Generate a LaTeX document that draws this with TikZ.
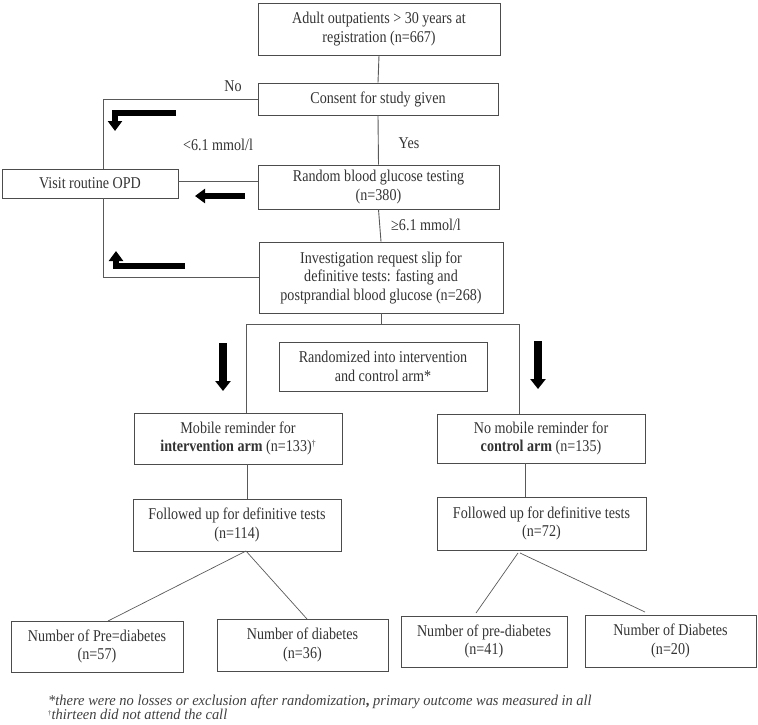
\documentclass[tikz,border=0pt]{standalone}
\usepackage{fontspec}
\setmainfont{Liberation Serif}[FakeStretch=0.855]
\newfontfamily\notefont{Liberation Serif}[FakeStretch=0.965]
\usetikzlibrary{arrows.meta}
\begin{document}
\begin{tikzpicture}[x=1pt,y=-1pt,
  box/.style={draw=black!70, line width=0.9pt, text=black!80, align=center, inner sep=0pt,
    font=\fontsize{16.5}{18.5}\selectfont},
  lbl/.style={text=black!80, inner sep=0pt, font=\fontsize{16.5}{18.5}\selectfont},
  conn/.style={draw=black!65, line width=0.9pt},
  fat/.style={line width=6pt, line join=miter, -{Triangle[width=14pt,length=10pt]}},
  fatv/.style={line width=7.5pt, -{Triangle[width=15pt,length=10pt]}},
  note/.style={anchor=base west, text=black!75, inner sep=0pt, font=\notefont\fontsize{15}{12}\selectfont\itshape}]
\useasboundingbox (0,0) rectangle (758,724);

% boxes
\node[box, minimum width=242, minimum height=52] (b1) at (379,29) {Adult outpatients > 30 years at\\registration (n=667)};
\node[box, minimum width=240, minimum height=32] (b2) at (378,99) {Consent for study given};
\node[box, minimum width=241, minimum height=44] (b3) at (378.5,187) {Random blood glucose testing\\(n=380)};
\node[box, minimum width=244, minimum height=71] (b4) at (381,277.5) {Investigation request slip for\\definitive tests: fasting and\\postprandial blood glucose (n=268)};
\node[box, minimum width=176, minimum height=29] (opd) at (90,183.5) {Visit routine OPD};
\node[box, minimum width=208, minimum height=49] (rnd) at (383,366.5) {Randomized into intervention\\and control arm*};
\node[box, minimum width=208, minimum height=51] (mob) at (238,438.5) {Mobile reminder for\\\textbf{intervention arm} (n=133)\raisebox{5pt}{\fontsize{9}{9}\selectfont †}};
\node[box, minimum width=208, minimum height=49] (ctl) at (541,438.5) {No mobile reminder for\\\textbf{control arm} (n=135)};
\node[box, minimum width=208, minimum height=52] (fol1) at (237,525) {Followed up for definitive tests\\(n=114)};
\node[box, minimum width=209, minimum height=53] (fol2) at (541.5,523.5) {Followed up for definitive tests\\(n=72)};
\node[box, minimum width=172, minimum height=51] (pre1) at (97,646.5) {Number of Pre=diabetes\\(n=57)};
\node[box, minimum width=171, minimum height=52] (dia1) at (302.5,645) {Number of diabetes\\(n=36)};
\node[box, minimum width=166, minimum height=51] (pre2) at (484,641.5) {Number of pre-diabetes\\(n=41)};
\node[box, minimum width=171, minimum height=52] (dia2) at (670.5,641) {Number of Diabetes\\(n=20)};

% labels
\node[lbl] (no) at (233,86) {No};
\node[lbl] (lt) at (218,145) {<6.1 mmol/l};
\node[lbl] (yes) at (409,143) {Yes};
\node[lbl, anchor=west] (ge) at (391,225) {≥6.1 mmol/l};

% main connectors
\draw[conn] (b1.south) -- (b2.north);
\draw[conn] (b2.south) -- (b3.north);
\draw[conn] (b3.south) -- (b4.north);

% left side to OPD
\coordinate (ox) at (103,0);
\draw[conn] (b2.west) -- (b2.west -| ox) -- (ox |- opd.north);
\coordinate (r3) at (258,181);
\draw[conn] (r3) -- (r3 -| opd.east);
\draw[conn] (ox |- opd.south) -- (ox |- b4.west) -- (b4.west);

% split to arms
\coordinate (sp) at (381,324);
\coordinate (spl) at (246,324);
\coordinate (spr) at (519,324);
\draw[conn] (b4.south) -- (sp);
\draw[conn] (spl) -- (spr);
\draw[conn] (spl) -- (spl |- mob.north);
\draw[conn] (spr) -- (spr |- ctl.north);

\coordinate (ml) at (247,0);
\draw[conn] (ml |- mob.south) -- (ml |- fol1.north);
\coordinate (cl) at (525,0);
\draw[conn] (cl |- ctl.south) -- (cl |- fol2.north);

% outcome branches
\coordinate (f1) at (246,551);
\draw[conn, line width=0.7pt] (f1) -- (108,621);
\draw[conn, line width=0.7pt] (f1) -- (307,619);
\coordinate (f2a) at (518,553);
\coordinate (f2b) at (520,553);
\coordinate (p2t) at (476,613);
\coordinate (d2t) at (645,612);
\draw[conn, line width=0.7pt] (f2a) -- (p2t);
\draw[conn, line width=0.7pt] (f2b) -- (d2t);

% thick arrows
\coordinate (a1s) at (176,113); \coordinate (a1c) at (115,113); \coordinate (a1e) at (115,131);
\draw[fat] (a1s) -- (a1c) -- (a1e);
\coordinate (a2s) at (245,196); \coordinate (a2e) at (195,196);
\draw[fat] (a2s) -- (a2e);
\coordinate (a3s) at (185,266); \coordinate (a3c) at (116,266); \coordinate (a3e) at (116,251);
\draw[fat] (a3s) -- (a3c) -- (a3e);
\coordinate (a4s) at (223,343); \coordinate (a4e) at (223,391);
\draw[fatv] (a4s) -- (a4e);
\coordinate (a5s) at (538,341); \coordinate (a5e) at (538,389);
\draw[fatv] (a5s) -- (a5e);

% footnotes
\node[note] (fn1) at (48,705) {*there were no losses or exclusion after randomization\textup{\textbf{,}} primary outcome was measured in all};
\node[note] (fn2) at (48,719) {\raisebox{4pt}{\upshape\fontsize{7}{7}\selectfont †}thirteen did not attend the call};
\end{tikzpicture}
\end{document}
